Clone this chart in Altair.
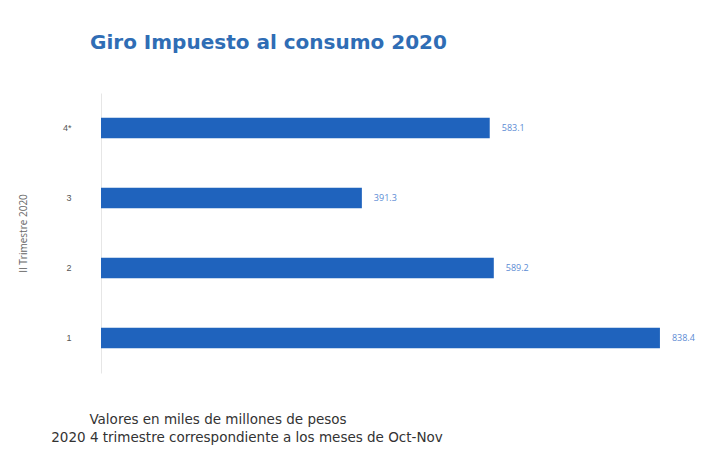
import altair as alt
import pandas as pd

trimestres = ["4*", "3", "2", "1"]
valores = [583.1, 391.3, 589.2, 838.4]
etiquetas = ["583.1", "391.3", "589.2", "838.4"]
nota_1 = "Valores en miles de millones de pesos"
nota_2 = "2020 4 trimestre correspondiente a los meses de Oct-Nov"

df = pd.DataFrame({"trimestre": trimestres, "valor": valores, "etiqueta": etiquetas})

y_enc = alt.Y("trimestre:N", sort=trimestres,
              scale=alt.Scale(paddingInner=0.71, paddingOuter=0.355),
              axis=alt.Axis(title="II Trimestre 2020", titleFontSize=10, titleFontWeight="normal",
                            titleColor="#666666", titlePadding=34, labelFontSize=9,
                            labelColor="#555555", labelPadding=30, ticks=False,
                            domainColor="#e6e6e6", grid=False, titleFont="Open Sans"))
x_enc = alt.X("valor:Q", scale=alt.Scale(domain=[0, 900]), axis=None)

bars = alt.Chart(df).mark_bar(color="#1f63bd").encode(x=x_enc, y=y_enc)
labels = alt.Chart(df).mark_text(align="left", dx=12, fontSize=9, color="#5b8bd4",
                                 font="Open Sans").encode(x=x_enc, y=y_enc, text="etiqueta:N")

notes = alt.Chart(alt.Data(values=[{"t": nota_1, "px": 117, "py": 327},
                                   {"t": nota_2, "px": 146, "py": 345}])).mark_text(
    align="center", baseline="middle", fontSize=13.5, color="#333333", font="DejaVu Sans"
).encode(x=alt.X("px:Q", scale=None), y=alt.Y("py:Q", scale=None), text="t:N")

chart = alt.layer(bars, labels, notes).properties(
    width=600, height=280,
    title=alt.Title("Giro Impuesto al consumo 2020", anchor="start", frame="group", dx=-11,
                    offset=40, fontSize=20, font="DejaVu Sans", fontWeight="bold", color="#2f6db5"),
    autosize=alt.AutoSizeParams(type="none"),
    padding={"left": 93, "top": 85, "right": 15, "bottom": 74},
).configure_view(stroke=None)

chart.save("out.html", embed_options={"renderer": "svg", "actions": False})
